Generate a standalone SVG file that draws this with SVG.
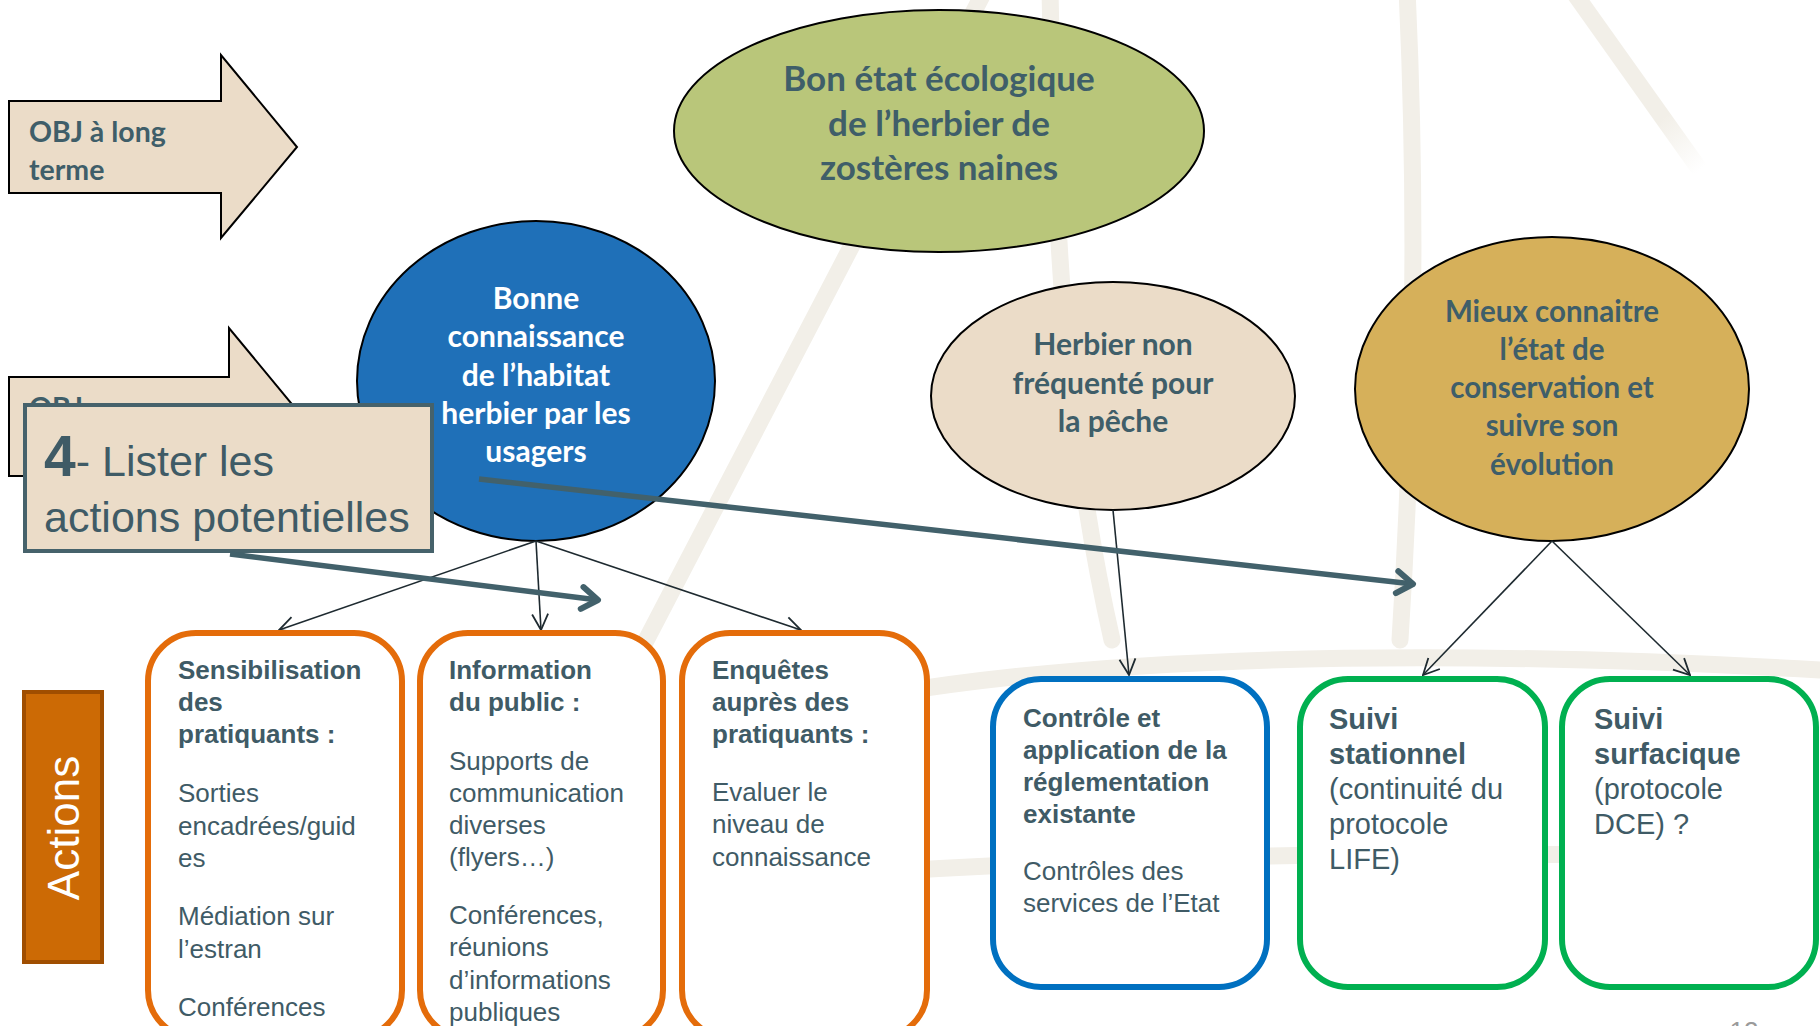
<svg xmlns="http://www.w3.org/2000/svg" width="1820" height="1026" viewBox="0 0 1820 1026">
  <defs>
    <style>
      .bg { fill: none; stroke: #f2efe8; stroke-width: 17; stroke-linecap: round; }
      .obj { fill: #ebdcc8; stroke: #000; stroke-width: 2; }
      .ell { stroke: #000; stroke-width: 2; }
      .cal { font-family: Lato, "Open Sans", sans-serif; font-weight: bold; fill: #3f5e69; text-anchor: middle; }
      .calw { fill: #ffffff; }
      .ar { font-family: "Liberation Sans", Arial, sans-serif; fill: #3f5b66; }
      .b { font-weight: bold; }
      .box { fill: #ffffff; stroke-width: 6; }
      .conn { fill: none; stroke: #1e2a30; stroke-width: 1.6; marker-end: url(#thin); }
      .thick { fill: none; stroke: #42616b; stroke-width: 5.5; marker-end: url(#fat); }
    </style>
    <marker id="thin" viewBox="0 0 20 20" refX="19" refY="10" markerWidth="20" markerHeight="20" markerUnits="userSpaceOnUse" orient="auto">
      <path d="M3,2 L19,10 L3,18" fill="none" stroke="#1e2a30" stroke-width="1.8"/>
    </marker>
    <marker id="fat" viewBox="0 0 30 30" refX="26" refY="15" markerWidth="30" markerHeight="30" markerUnits="userSpaceOnUse" orient="auto">
      <path d="M10,4 L26,15 L10,26" fill="none" stroke="#42616b" stroke-width="6" stroke-linecap="round" stroke-linejoin="round"/>
    </marker>
    <linearGradient id="fade" x1="1572" y1="0" x2="1700" y2="170" gradientUnits="userSpaceOnUse">
      <stop offset="0" stop-color="#f2efe8"/>
      <stop offset="0.7" stop-color="#f2efe8"/>
      <stop offset="1" stop-color="#ffffff"/>
    </linearGradient>
  </defs>

  <rect x="0" y="0" width="1820" height="1026" fill="#ffffff"/>

  <g id="background">
    <path class="bg" d="M985,-10 L615,700"/>
    <path class="bg" d="M1050,-10 C1054,200 1062,420 1112,640"/>
    <path class="bg" d="M1407,-10 C1417,200 1414,420 1400,640"/>
    <path class="bg" d="M1572,-10 L1700,170" style="stroke:url(#fade)"/>
    <path class="bg" d="M880,695 C1100,658 1400,646 1820,670"/>
    <path class="bg" d="M880,872 C1200,852 1500,850 1820,860"/>
  </g>

  <g id="obj-long-terme">
    <path class="obj" d="M9,101 L221,101 L221,55 L297,147 L221,238 L221,193 L9,193 Z"/>
    <text class="cal" style="text-anchor:start" x="29" y="142" font-size="28.5">OBJ à long</text>
    <text class="cal" style="text-anchor:start" x="29" y="180" font-size="28.5">terme</text>
  </g>

  <g id="obj-2">
    <path class="obj" d="M9,377 L229,377 L229,328 L310,426 L229,525 L229,476 L9,476 Z"/>
    <text class="cal" style="text-anchor:start" x="29" y="418" font-size="28.5">OBJ</text>
  </g>

  <g id="bon-etat">
    <ellipse class="ell" cx="939" cy="131" rx="265" ry="121" fill="#b9c67a"/>
    <text class="cal" x="939" y="91" font-size="35">Bon état écologique</text>
    <text class="cal" x="939" y="136" font-size="35">de l’herbier de</text>
    <text class="cal" x="939" y="180" font-size="35">zostères naines</text>
  </g>

  <g id="bonne-connaissance">
    <ellipse class="ell" cx="536" cy="381" rx="179" ry="160" fill="#1f70b8"/>
    <text class="cal calw" x="536" y="309" font-size="30">Bonne</text>
    <text class="cal calw" x="536" y="347" font-size="30">connaissance</text>
    <text class="cal calw" x="536" y="386" font-size="30">de l’habitat</text>
    <text class="cal calw" x="536" y="424" font-size="30">herbier par les</text>
    <text class="cal calw" x="536" y="462" font-size="30">usagers</text>
  </g>

  <g id="herbier-non-frequente">
    <ellipse class="ell" cx="1113" cy="396" rx="182" ry="114" fill="#ebdcc8"/>
    <text class="cal" x="1113" y="355" font-size="30">Herbier non</text>
    <text class="cal" x="1113" y="394" font-size="30">fréquenté pour</text>
    <text class="cal" x="1113" y="432" font-size="30">la pêche</text>
  </g>

  <g id="mieux-connaitre">
    <ellipse class="ell" cx="1552" cy="389" rx="197" ry="152" fill="#d6b05a"/>
    <text class="cal" x="1552" y="322" font-size="29.5">Mieux connaitre</text>
    <text class="cal" x="1552" y="360" font-size="29.5">l’état de</text>
    <text class="cal" x="1552" y="398" font-size="29.5">conservation et</text>
    <text class="cal" x="1552" y="436" font-size="29.5">suivre son</text>
    <text class="cal" x="1552" y="475" font-size="29.5">évolution</text>
  </g>

  <g id="connectors">
    <line class="conn" x1="536" y1="541" x2="279" y2="630"/>
    <line class="conn" x1="536" y1="541" x2="541" y2="630"/>
    <line class="conn" x1="536" y1="541" x2="801" y2="630"/>
    <line class="conn" x1="1113" y1="510" x2="1129" y2="675"/>
    <line class="conn" x1="1552" y1="541" x2="1423" y2="675"/>
    <line class="conn" x1="1552" y1="541" x2="1690" y2="675"/>
  </g>

  <g id="actions-label">
    <rect x="24" y="692" width="78" height="270" fill="#cc6a05" stroke="#a04e00" stroke-width="4"/>
    <text class="ar" transform="translate(79,828) rotate(-90)" text-anchor="middle" font-size="44" style="fill:#ffffff">Actions</text>
  </g>

  <g id="sensibilisation">
    <rect class="box" x="148" y="633" width="254" height="405" rx="48" stroke="#e46c0a"/>
    <text class="ar b" x="178" y="679" font-size="26">Sensibilisation</text>
    <text class="ar b" x="178" y="711" font-size="26">des</text>
    <text class="ar b" x="178" y="743" font-size="26">pratiquants :</text>
    <text class="ar" x="178" y="802" font-size="26">Sorties</text>
    <text class="ar" x="178" y="835" font-size="26">encadrées/guid</text>
    <text class="ar" x="178" y="867" font-size="26">es</text>
    <text class="ar" x="178" y="925" font-size="26">Médiation sur</text>
    <text class="ar" x="178" y="958" font-size="26">l’estran</text>
    <text class="ar" x="178" y="1016" font-size="26">Conférences</text>
  </g>

  <g id="information">
    <rect class="box" x="420" y="633" width="243" height="405" rx="48" stroke="#e46c0a"/>
    <text class="ar b" x="449" y="679" font-size="26">Information</text>
    <text class="ar b" x="449" y="711" font-size="26">du public :</text>
    <text class="ar" x="449" y="770" font-size="26">Supports de</text>
    <text class="ar" x="449" y="802" font-size="26">communication</text>
    <text class="ar" x="449" y="834" font-size="26">diverses</text>
    <text class="ar" x="449" y="866" font-size="26">(flyers…)</text>
    <text class="ar" x="449" y="924" font-size="26">Conférences,</text>
    <text class="ar" x="449" y="956" font-size="26">réunions</text>
    <text class="ar" x="449" y="989" font-size="26">d’informations</text>
    <text class="ar" x="449" y="1021" font-size="26">publiques</text>
  </g>

  <g id="enquetes">
    <rect class="box" x="682" y="633" width="245" height="405" rx="48" stroke="#e46c0a"/>
    <text class="ar b" x="712" y="679" font-size="26">Enquêtes</text>
    <text class="ar b" x="712" y="711" font-size="26">auprès des</text>
    <text class="ar b" x="712" y="743" font-size="26">pratiquants :</text>
    <text class="ar" x="712" y="801" font-size="26">Evaluer le</text>
    <text class="ar" x="712" y="833" font-size="26">niveau de</text>
    <text class="ar" x="712" y="866" font-size="26">connaissance</text>
  </g>

  <g id="controle">
    <rect class="box" x="993" y="679" width="274" height="308" rx="48" stroke="#0070c0"/>
    <text class="ar b" x="1023" y="727" font-size="26">Contrôle et</text>
    <text class="ar b" x="1023" y="759" font-size="26">application de la</text>
    <text class="ar b" x="1023" y="791" font-size="26">réglementation</text>
    <text class="ar b" x="1023" y="823" font-size="26">existante</text>
    <text class="ar" x="1023" y="880" font-size="26">Contrôles des</text>
    <text class="ar" x="1023" y="912" font-size="26">services de l’Etat</text>
  </g>

  <g id="suivi-stationnel">
    <rect class="box" x="1300" y="679" width="245" height="308" rx="48" stroke="#00b050"/>
    <text class="ar b" x="1329" y="729" font-size="29">Suivi</text>
    <text class="ar b" x="1329" y="764" font-size="29">stationnel</text>
    <text class="ar" x="1329" y="799" font-size="29">(continuité du</text>
    <text class="ar" x="1329" y="834" font-size="29">protocole</text>
    <text class="ar" x="1329" y="869" font-size="29">LIFE)</text>
  </g>

  <g id="suivi-surfacique">
    <rect class="box" x="1562" y="679" width="254" height="308" rx="48" stroke="#00b050"/>
    <text class="ar b" x="1594" y="729" font-size="29">Suivi</text>
    <text class="ar b" x="1594" y="764" font-size="29">surfacique</text>
    <text class="ar" x="1594" y="799" font-size="29">(protocole</text>
    <text class="ar" x="1594" y="834" font-size="29">DCE) ?</text>
  </g>

  <g id="step-label">
    <rect x="25" y="405" width="407" height="146" fill="#ebdcc8" stroke="#46626b" stroke-width="4"/>
    <text class="ar" x="44" y="476" font-size="43"><tspan class="b" font-size="57">4</tspan>- Lister les</text>
    <text class="ar" x="44" y="532" font-size="43">actions potentielles</text>
  </g>

  <g id="annotation-arrows">
    <line class="thick" x1="230" y1="554" x2="598" y2="600"/>
    <line class="thick" x1="479" y1="479" x2="1413" y2="584"/>
  </g>

  <text x="1744" y="1040" font-family="Liberation Sans, Arial, sans-serif" font-size="26" fill="#9a9a9a" text-anchor="middle">12</text>
</svg>
